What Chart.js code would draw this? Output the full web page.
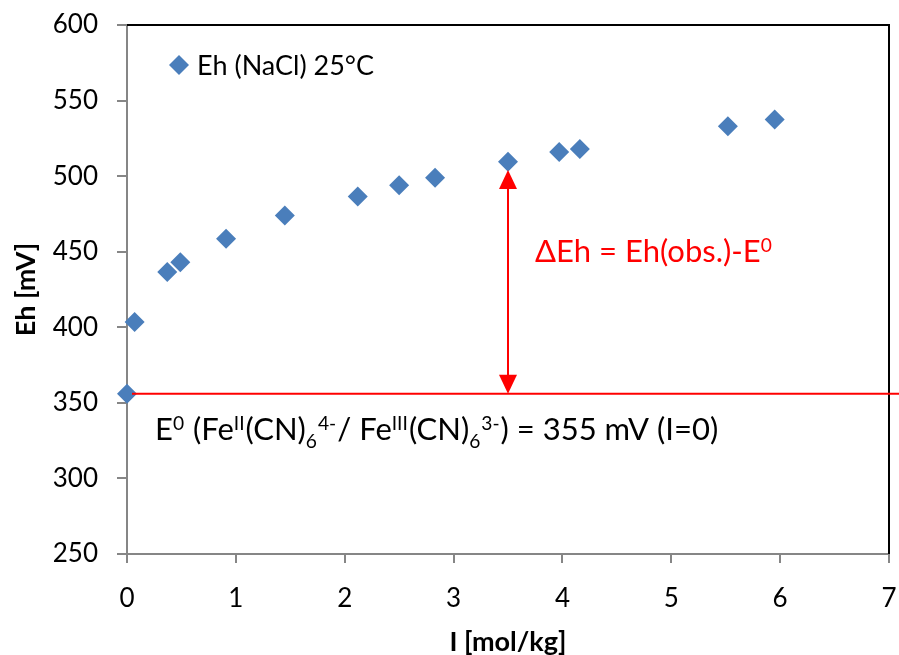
<!DOCTYPE html>
<html><head><meta charset="utf-8">
<script src="https://cdn.jsdelivr.net/npm/chart.js@4.4.1/dist/chart.umd.min.js"></script>
<style>html,body{margin:0;padding:0;background:#fff;overflow:hidden}canvas{display:block}</style>
</head><body>
<canvas id="c" width="899" height="655"></canvas>
<script>
// ---- data ----
const ionicStrength = [0, 0.07, 0.37, 0.49, 0.91, 1.45, 2.12, 2.50, 2.83, 3.50, 3.97, 4.16, 5.52, 5.95];
const ehValues      = [356, 403.5, 436.5, 443, 458.5, 474, 486.5, 494, 499, 509.5, 516, 518, 533, 537.5];
const seriesLabel = 'Eh (NaCl) 25°C';
const xTicks = [0, 1, 2, 3, 4, 5, 6, 7];
const yTicks = [250, 300, 350, 400, 450, 500, 550, 600];
const xTitle = 'I [mol/kg]';
const yTitle = 'Eh [mV]';
const e0Line = [356];              // E0 reference line (mV)
const arrowSpan = [3.5, 356, 504]; // x, from, to
const deltaText = [{t:'ΔEh = Eh(obs.)-E'}, {t:'0', k:'sup'}];
const e0Text = [
  {t:'E'}, {t:'0', k:'sup'}, {t:' (Fe'}, {t:'II', k:'sup'}, {t:'(CN)'}, {t:'6', k:'sub'}, {t:'4-', k:'sup'},
  {t:'/ Fe'}, {t:'III', k:'sup'}, {t:'(CN)'}, {t:'6', k:'sub'}, {t:'3-', k:'sup'}, {t:') = 355 mV (I=0)'}
];

const FONT = 'Lato';
const BLUE = '#4A7EBB';
const AXIS = '#868686';

function drawRich(ctx, x, y, segs, size, color) {
  let cx = x;
  ctx.fillStyle = color;
  ctx.textAlign = 'left';
  ctx.textBaseline = 'alphabetic';
  for (const s of segs) {
    const small = s.k === 'sup' || s.k === 'sub';
    const fs = small ? size * 0.62 : size;
    ctx.font = fs + 'px ' + FONT;
    const dy = s.k === 'sup' ? -size * 0.32 : (s.k === 'sub' ? size * 0.26 : 0);
    ctx.fillText(s.t, cx, y + dy);
    cx += ctx.measureText(s.t).width + (small ? 1 : 0);
  }
}

const annot = {
  id: 'annot',
  afterDatasetsDraw(chart) {
    const {ctx, chartArea: a, scales: {x, y}} = chart;
    ctx.save();
    // top & right frame
    ctx.strokeStyle = '#000'; ctx.lineWidth = 2;
    ctx.beginPath();
    ctx.moveTo(a.left, a.top); ctx.lineTo(a.right, a.top); ctx.lineTo(a.right, a.bottom);
    ctx.stroke();
    // E0 line
    const yl = y.getPixelForValue(e0Line[0]);
    ctx.strokeStyle = '#FF0000'; ctx.lineWidth = 2;
    ctx.beginPath(); ctx.moveTo(a.left + 5, yl); ctx.lineTo(chart.width, yl); ctx.stroke();
    // double arrow
    const ax = x.getPixelForValue(arrowSpan[0]);
    const y1 = y.getPixelForValue(arrowSpan[1]);
    const y2 = y.getPixelForValue(arrowSpan[2]);
    const hl = 19, hw = 9;
    ctx.beginPath(); ctx.moveTo(ax, y1 - hl + 2); ctx.lineTo(ax, y2 + hl - 2); ctx.stroke();
    ctx.fillStyle = '#FF0000';
    ctx.beginPath(); ctx.moveTo(ax, y2); ctx.lineTo(ax - hw, y2 + hl); ctx.lineTo(ax + hw, y2 + hl); ctx.closePath(); ctx.fill();
    ctx.beginPath(); ctx.moveTo(ax, y1); ctx.lineTo(ax - hw, y1 - hl); ctx.lineTo(ax + hw, y1 - hl); ctx.closePath(); ctx.fill();
    // texts
    drawRich(ctx, ax + 27, 262, deltaText, 31, '#FF0000');
    drawRich(ctx, a.left + 28, 440, e0Text, 31, '#000');
    // legend
    const lx = a.left + 52, ly = a.top + 40, r = 10;
    ctx.fillStyle = BLUE;
    ctx.beginPath(); ctx.moveTo(lx, ly - r); ctx.lineTo(lx + r, ly); ctx.lineTo(lx, ly + r); ctx.lineTo(lx - r, ly); ctx.closePath(); ctx.fill();
    ctx.fillStyle = '#000'; ctx.font = '27px ' + FONT; ctx.textBaseline = 'alphabetic';
    ctx.fillText(chart.data.datasets[0].label, lx + 18, ly + 10);
    ctx.restore();
  }
};

function build() {
  new Chart(document.getElementById('c'), {
    type: 'scatter',
    data: {
      datasets: [{
        label: seriesLabel,
        data: ionicStrength.map((v, i) => ({x: v, y: ehValues[i]})),
        pointStyle: 'rectRot',
        pointRadius: 10,
        pointHoverRadius: 10,
        backgroundColor: BLUE,
        borderColor: BLUE,
        borderWidth: 0,
        clip: false
      }]
    },
    options: {
      responsive: false,
      animation: false,
      devicePixelRatio: 1,
      layout: {padding: {left: 0, top: 25, right: 9, bottom: 0}},
      plugins: {legend: {display: false}, tooltip: {enabled: false}},
      scales: {
        x: {
          type: 'linear',
          min: xTicks[0], max: xTicks[xTicks.length - 1],
          afterBuildTicks: s => { s.ticks = xTicks.map(v => ({value: v})); },
          afterFit: s => { s.height = 101; s.paddingLeft = 0; s.paddingRight = 0; },
          grid: {drawOnChartArea: false, color: AXIS, lineWidth: 2, tickLength: 9},
          border: {color: AXIS, width: 2},
          ticks: {color: '#000', font: {family: FONT, size: 26}, padding: 20, maxRotation: 0},
          title: {display: true, text: xTitle, color: '#000', font: {family: FONT, size: 27, weight: 'bold'}, padding: {top: 0, bottom: -3}}
        },
        y: {
          type: 'linear',
          min: yTicks[0], max: yTicks[yTicks.length - 1],
          afterBuildTicks: s => { s.ticks = yTicks.map(v => ({value: v})); },
          afterFit: s => { s.width = 127; s.paddingTop = 0; s.paddingBottom = 0; },
          grid: {drawOnChartArea: false, color: AXIS, lineWidth: 2, tickLength: 10},
          border: {color: AXIS, width: 2},
          ticks: {color: '#000', font: {family: FONT, size: 26}, padding: 19},
          title: {display: true, text: yTitle, color: '#000', font: {family: FONT, size: 27, weight: 'bold'}, padding: {top: 10, bottom: 0}}
        }
      }
    },
    plugins: [annot]
  });
}

if (document.fonts && document.fonts.load) {
  Promise.all([document.fonts.load('26px Lato'), document.fonts.load('bold 26px Lato')]).then(build, build);
} else { build(); }
</script>
</body></html>
